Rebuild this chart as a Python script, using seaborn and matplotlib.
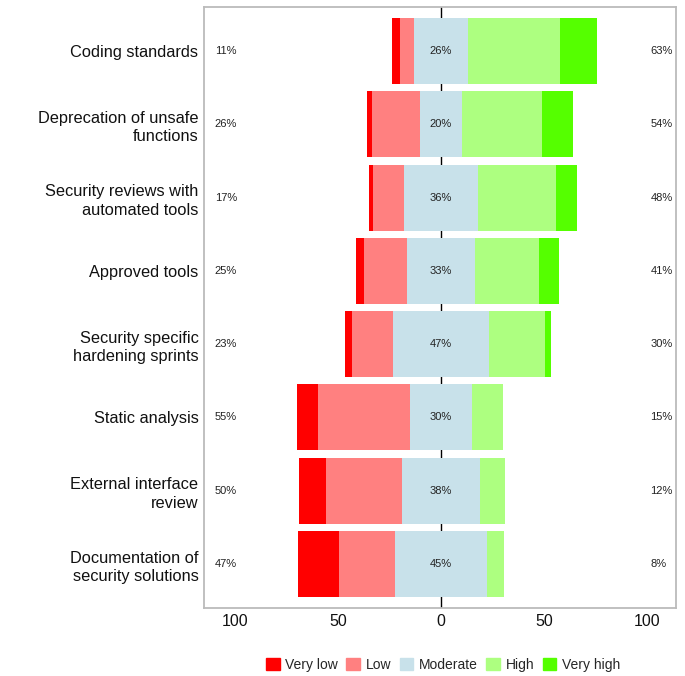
import matplotlib
matplotlib.use('Agg')
import matplotlib.pyplot as plt
import matplotlib.patches as mpatches
import seaborn as sns
import pandas as pd

sns.set_theme(style='white')
plt.rcParams['font.family'] = ['Liberation Sans', 'DejaVu Sans']

# Survey data (percent of respondents)
categories = ['Coding standards', 'Deprecation of unsafe\nfunctions',
              'Security reviews with\nautomated tools', 'Approved tools',
              'Security specific\nhardening sprints', 'Static analysis',
              'External interface\nreview', 'Documentation of\nsecurity solutions']
very_low = [4, 2.5, 2, 4, 3, 10, 13, 20]
low = [7, 23.5, 15, 21, 20, 45, 37, 27]
moderate = [26, 20, 36, 33, 47, 30, 38, 45]
high = [45, 39, 38, 31, 27, 15, 12, 8]
very_high = [18, 15, 10, 10, 3, 0, 0, 0]

levels = ['Very low', 'Low', 'Moderate', 'High', 'Very high']
colors = ['#FF0000', '#FF8080', '#C8E1EA', '#ADFF80', '#55FF00']

df = pd.DataFrame({'item': categories, 'vl': very_low, 'l': low, 'm': moderate,
                   'h': high, 'vh': very_high})
df['half'] = df['m'] / 2

fig = plt.figure(figsize=(6.85, 6.76), dpi=100)
ax = fig.add_axes([0.2978, 0.1006, 0.6891, 0.889])

ax.axvline(0, color='black', lw=1, zorder=0)

# diverging stacks drawn as overlapping cumulative bars
layers = [
    (-(df['half'] + df['l'] + df['vl']), colors[0]),
    (-(df['half'] + df['l']), colors[1]),
    (df['half'] + df['h'] + df['vh'], colors[4]),
    (df['half'] + df['h'], colors[3]),
    (-df['half'], colors[2]),
    (df['half'], colors[2]),
]
for vals, c in layers:
    sns.barplot(x=vals, y=df['item'], orient='h', color=c, saturation=1,
                width=0.9, errorbar=None, linewidth=0, ax=ax)

for i, row in df.iterrows():
    left = round(row['vl'] + row['l'])
    right = round(row['h'] + row['vh'])
    ax.text(-109.9, i, f'{left}%', ha='left', va='center', fontsize=8, color='#222222')
    ax.text(0, i, f"{round(row['m'])}%", ha='center', va='center', fontsize=8, color='#222222')
    ax.text(101.8, i, f'{right}%', ha='left', va='center', fontsize=8, color='#222222')

ax.set_xlim(-115.2, 114.2)
ax.set_ylim(7.6, -0.6)
ax.set_xticks([-100, -50, 0, 50, 100])
ax.set_xticklabels(['100', '50', '0', '50', '100'])
ax.tick_params(axis='x', length=0, pad=4, labelsize=11.5, labelcolor='#111111')
ax.tick_params(axis='y', length=0, pad=4, labelsize=11.8, labelcolor='#111111')
for t in ax.get_yticklabels():
    t.set_linespacing(1.3)
ax.set_xlabel('')
ax.set_ylabel('')
for s in ax.spines.values():
    s.set_color('#BBBBBB')
    s.set_linewidth(1.3)

handles = [mpatches.Patch(color=c, label=l) for l, c in zip(levels, colors)]
fig.legend(handles=handles, loc='center', bbox_to_anchor=(443 / 685, 1 - 665 / 676),
           ncol=5, frameon=False, fontsize=10, handlelength=1.0, handleheight=1.0,
           handletextpad=0.4, columnspacing=0.6)

fig.savefig('out.png', dpi=100, facecolor='white')
